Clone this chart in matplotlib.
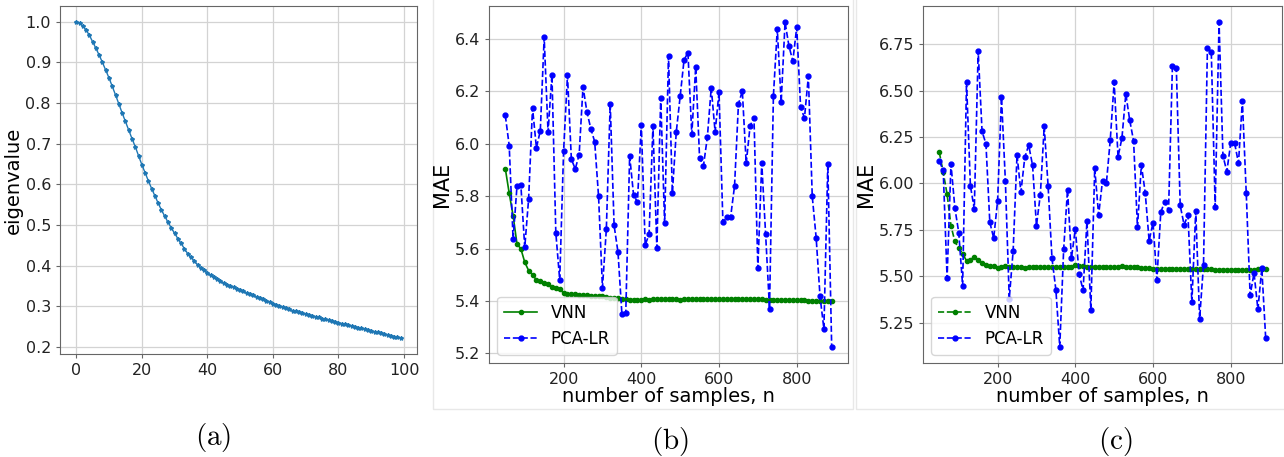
import numpy as np
import matplotlib
matplotlib.use('Agg')
import matplotlib.pyplot as plt
from matplotlib.patches import Rectangle

# panel (a): eigenvalue spectrum
eig_idx = list(range(100))
eig_vals = [1.000, 0.997, 0.990, 0.980, 0.967, 0.951, 0.935, 0.918, 0.900, 0.881,
            0.862, 0.841, 0.820, 0.798, 0.776, 0.755, 0.734, 0.713, 0.693, 0.671,
            0.649, 0.629, 0.609, 0.590, 0.572, 0.554, 0.537, 0.522, 0.507, 0.493,
            0.480, 0.467, 0.455, 0.442, 0.430, 0.421, 0.412, 0.403, 0.395, 0.389,
            0.383, 0.377, 0.372, 0.367, 0.362, 0.358, 0.354, 0.350, 0.347, 0.344,
            0.340, 0.337, 0.333, 0.330, 0.327, 0.324, 0.321, 0.318, 0.314, 0.311,
            0.307, 0.304, 0.301, 0.298, 0.296, 0.293, 0.290, 0.288, 0.286, 0.283,
            0.281, 0.279, 0.277, 0.275, 0.273, 0.270, 0.268, 0.266, 0.264, 0.262,
            0.260, 0.258, 0.256, 0.254, 0.252, 0.250, 0.248, 0.246, 0.244, 0.242,
            0.240, 0.238, 0.236, 0.234, 0.232, 0.230, 0.228, 0.226, 0.224, 0.222]

# number of samples for panels (b) and (c)
n_samples = list(range(50, 900, 10))

# panel (b)
vnn_b = [5.905, 5.811, 5.726, 5.618, 5.599, 5.548, 5.516, 5.500, 5.480, 5.475,
         5.467, 5.463, 5.452, 5.450, 5.445, 5.430, 5.428, 5.425, 5.426, 5.424,
         5.423, 5.421, 5.420, 5.419, 5.418, 5.417, 5.415, 5.413, 5.412, 5.410,
         5.408, 5.407, 5.405, 5.405, 5.404, 5.405, 5.406, 5.405, 5.407, 5.408,
         5.407, 5.407, 5.408, 5.407, 5.406, 5.405, 5.406, 5.406, 5.407, 5.406,
         5.407, 5.406, 5.407, 5.407, 5.406, 5.407, 5.407, 5.406, 5.407, 5.408,
         5.407, 5.407, 5.406, 5.407, 5.406, 5.406, 5.407, 5.405, 5.405, 5.405,
         5.404, 5.404, 5.404, 5.403, 5.403, 5.403, 5.402, 5.402, 5.401, 5.401,
         5.400, 5.400, 5.400, 5.400, 5.399]
pca_b = [6.108, 5.993, 5.636, 5.837, 5.843, 5.604, 5.790, 6.137, 5.985, 6.049,
         6.406, 6.044, 6.264, 5.660, 5.480, 5.973, 6.261, 5.941, 5.904, 5.958,
         6.218, 6.122, 6.058, 6.008, 5.799, 5.451, 5.673, 6.153, 5.688, 5.586,
         5.352, 5.353, 5.954, 5.806, 5.777, 6.073, 5.614, 5.654, 6.069, 5.603,
         6.176, 5.696, 6.334, 5.813, 6.045, 6.181, 6.320, 6.348, 6.036, 6.294,
         5.945, 5.916, 6.025, 6.214, 6.045, 6.197, 5.702, 5.720, 5.722, 5.839,
         6.151, 6.202, 5.925, 6.068, 6.100, 5.525, 5.927, 5.654, 5.371, 6.183,
         6.438, 6.158, 6.464, 6.373, 6.316, 6.445, 6.139, 6.099, 6.258, 5.799,
         5.642, 5.417, 5.293, 5.923, 5.225]

# panel (c)
vnn_c = [6.167, 6.060, 5.942, 5.772, 5.687, 5.651, 5.621, 5.583, 5.590, 5.603,
         5.585, 5.572, 5.560, 5.556, 5.555, 5.545, 5.550, 5.553, 5.548, 5.550,
         5.549, 5.547, 5.546, 5.547, 5.548, 5.549, 5.548, 5.547, 5.549, 5.550,
         5.551, 5.550, 5.551, 5.552, 5.552, 5.558, 5.556, 5.553, 5.552, 5.551,
         5.552, 5.551, 5.551, 5.550, 5.549, 5.550, 5.551, 5.553, 5.552, 5.550,
         5.548, 5.547, 5.546, 5.544, 5.542, 5.541, 5.540, 5.539, 5.540, 5.539,
         5.540, 5.539, 5.540, 5.539, 5.539, 5.538, 5.538, 5.538, 5.537, 5.537,
         5.537, 5.536, 5.536, 5.536, 5.535, 5.535, 5.535, 5.534, 5.534, 5.533,
         5.535, 5.536, 5.537, 5.538, 5.538]
pca_c = [6.120, 6.071, 5.490, 6.105, 5.868, 5.735, 5.450, 6.545, 5.987, 5.861,
         6.714, 6.280, 6.213, 5.790, 5.705, 5.906, 6.464, 6.014, 5.378, 5.637,
         6.154, 5.953, 6.140, 6.206, 6.097, 5.773, 5.939, 6.307, 5.985, 5.596,
         5.427, 5.120, 5.644, 5.967, 5.596, 5.755, 5.510, 5.425, 5.797, 5.319,
         6.082, 5.829, 6.014, 6.001, 6.235, 6.545, 6.143, 6.244, 6.482, 6.341,
         6.229, 5.764, 6.100, 5.949, 5.691, 5.788, 5.481, 5.845, 5.900, 5.854,
         6.633, 6.622, 5.881, 5.777, 5.829, 5.359, 5.852, 5.271, 5.563, 6.727,
         6.709, 5.874, 6.868, 6.149, 6.064, 6.217, 6.217, 6.109, 6.445, 5.947,
         5.398, 5.517, 5.321, 5.544, 5.167]

W, H = 1284, 457
fig = plt.figure(figsize=(W / 100, H / 100), dpi=100)
plt.rcParams['mathtext.fontset'] = 'cm'

def fbox(x0, y0, x1, y1):
    # pixel box (top-left origin) -> figure fraction [l, b, w, h]
    return [x0 / W, 1 - y1 / H, (x1 - x0) / W, (y1 - y0) / H]

# faint frames around the (b) and (c) sub-figures, kept behind everything
for x0, x1 in [(433, 853), (856, 1290)]:
    fig.patches.append(Rectangle((x0 / W, 1 - 409 / H), (x1 - x0) / W, 409 / H + 0.01,
                                 transform=fig.transFigure, fill=False,
                                 edgecolor='#e8e8e8', linewidth=1, zorder=-5))

def style(ax, fs):
    ax.grid(True, color='#d3d3d3', linewidth=0.9)
    ax.set_axisbelow(True)
    for sp in ax.spines.values():
        sp.set_color('#666666')
    ax.tick_params(labelsize=fs, colors='#222222', length=3, width=0.8)
    ax.tick_params(color='#666666')

# (a)
ax_a = fig.add_axes(fbox(60, 6, 417, 354))
ax_a.plot(eig_idx, eig_vals, color='#1f77b4', marker='*', markersize=3, linewidth=1)
ax_a.set_ylabel('eigenvalue', fontsize=14, labelpad=2)
ax_a.set_xticks([0, 20, 40, 60, 80, 100])
style(ax_a, 11.5)

# (b)
ax_b = fig.add_axes(fbox(489, 6, 848, 363))
ax_b.plot(n_samples, vnn_b, color='green', linestyle='-', marker='.', markersize=6,
          linewidth=1.2, label='VNN')
ax_b.plot(n_samples, pca_b, color='blue', linestyle='--', marker='.', markersize=7,
          linewidth=1.2, label='PCA-LR')
ax_b.set_ylabel('MAE', fontsize=15, labelpad=2)
ax_b.set_xlabel('number of samples, n', fontsize=14, labelpad=0)
ax_b.set_xticks([200, 400, 600, 800])
ax_b.set_yticks([5.2, 5.4, 5.6, 5.8, 6.0, 6.2, 6.4])
ax_b.legend(loc='lower left', fontsize=12)
style(ax_b, 11.5)

# (c)
ax_c = fig.add_axes(fbox(923, 6, 1282, 363))
ax_c.plot(n_samples, vnn_c, color='green', linestyle='--', marker='.', markersize=6,
          linewidth=1.2, label='VNN')
ax_c.plot(n_samples, pca_c, color='blue', linestyle='--', marker='.', markersize=7,
          linewidth=1.2, label='PCA-LR')
ax_c.set_ylabel('MAE', fontsize=15, labelpad=2)
ax_c.set_xlabel('number of samples, n', fontsize=14, labelpad=0)
ax_c.set_xticks([200, 400, 600, 800])
ax_c.set_yticks([5.25, 5.50, 5.75, 6.00, 6.25, 6.50, 6.75])
ax_c.legend(loc='lower left', fontsize=12)
style(ax_c, 11.5)

# captions
for x, lab, y in [(213, '(a)', 438), (670, '(b)', 442), (1115, '(c)', 442)]:
    fig.text(x / W, 1 - y / H, r'$\mathrm{' + lab + '}$', fontsize=21,
             ha='center', va='center')

fig.savefig('out.png', dpi=100, facecolor='white')
